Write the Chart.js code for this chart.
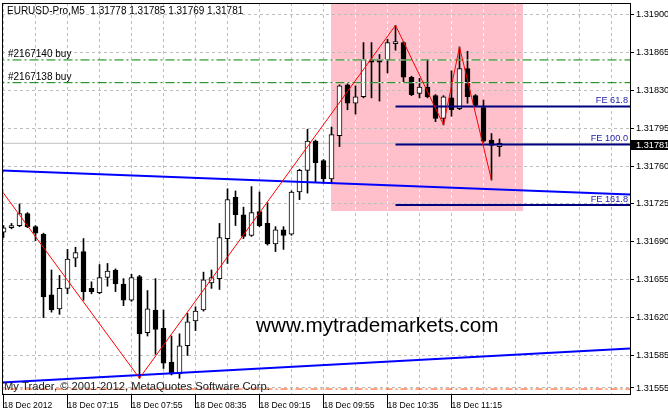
<!DOCTYPE html>
<html><head><meta charset="utf-8">
<script src="https://cdn.jsdelivr.net/npm/chart.js@4.4.1/dist/chart.umd.min.js"></script>
<style>
html,body{margin:0;padding:0;background:#fff;overflow:hidden}
#wrap{position:relative;width:668px;height:412px}
canvas{display:block}
</style></head><body>
<div id="wrap"><canvas id="c" width="668" height="412"></canvas></div>
<script>
// ---------- data ----------
const symbolTitle = 'EURUSD-Pro,M5  1.31778 1.31785 1.31769 1.31781';
const opens  = [1.31699,1.31703,1.31705,1.31716,1.31704,1.31697,1.31641,1.31628,1.31647,1.31675,
                1.31681,1.31647,1.31643,1.31657,1.31664,1.31651,1.31636,1.31658,1.31606,1.31627,
                1.31610,1.31579,1.31568,1.31594,1.31617,1.31627,1.31652,1.31656,1.31693,1.31731,
                1.31715,1.31696,1.31718,1.31707,1.31688,1.31701,1.31697,1.31736,1.31756,1.31783,
                1.31765,1.31748,1.31788,1.31835,1.31818,1.31824,1.31858,1.31858,1.31858,1.31873,
                1.31874,1.31842,1.31827,1.31833,1.31825,1.31804,1.31823,1.31813,1.31850,1.31825,
                1.31814,1.31784,1.31778];
const highs  = [1.31705,1.31707,1.31725,1.31717,1.31705,1.31698,1.31664,1.31659,1.31683,1.31685,
                1.31693,1.31653,1.31669,1.31670,1.31665,1.31656,1.31660,1.31659,1.31645,1.31656,
                1.31627,1.31603,1.31605,1.31624,1.31630,1.31662,1.31664,1.31707,1.31739,1.31737,
                1.31722,1.31741,1.31736,1.31726,1.31704,1.31704,1.31737,1.31757,1.31794,1.31784,
                1.31766,1.31796,1.31835,1.31836,1.31834,1.31874,1.31874,1.31863,1.31877,1.31890,
                1.31875,1.31843,1.31841,1.31858,1.31826,1.31825,1.31848,1.31870,1.31866,1.31826,
                1.31821,1.31790,1.31785];
const lows   = [1.31694,1.31702,1.31704,1.31703,1.31691,1.31620,1.31625,1.31623,1.31642,1.31667,
                1.31636,1.31642,1.31642,1.31649,1.31644,1.31631,1.31635,1.31564,1.31603,1.31586,
                1.31573,1.31567,1.31564,1.31585,1.31608,1.31626,1.31647,1.31646,1.31670,1.31705,
                1.31693,1.31695,1.31704,1.31687,1.31681,1.31683,1.31696,1.31729,1.31735,1.31745,
                1.31744,1.31744,1.31778,1.31812,1.31808,1.31823,1.31823,1.31820,1.31846,1.31867,
                1.31837,1.31825,1.31823,1.31823,1.31801,1.31798,1.31806,1.31812,1.31818,1.31815,
                1.31782,1.31747,1.31769];
const closes = [1.31703,1.31705,1.31716,1.31704,1.31698,1.31639,1.31627,1.31647,1.31674,1.31680,
                1.31644,1.31644,1.31657,1.31663,1.31651,1.31636,1.31657,1.31605,1.31628,1.31609,
                1.31578,1.31568,1.31594,1.31616,1.31626,1.31655,1.31657,1.31694,1.31729,1.31715,
                1.31695,1.31717,1.31705,1.31688,1.31701,1.31696,1.31736,1.31756,1.31783,1.31763,
                1.31748,1.31789,1.31834,1.31818,1.31824,1.31858,1.31856,1.31856,1.31874,1.31875,
                1.31842,1.31826,1.31833,1.31824,1.31804,1.31824,1.31812,1.31850,1.31824,1.31816,
                1.31783,1.31779,1.31781];

const timeLabels    = ['18 Dec 2012','18 Dec 07:15','18 Dec 07:55','18 Dec 08:35','18 Dec 09:15','18 Dec 09:55','18 Dec 10:35','18 Dec 11:15'];
const timeLabelBars = [0, 8, 16, 24, 32, 40, 48, 56];
const gridBars      = [0,4,8,12,16,20,24,28,32,36,40,44,48,52,56,60,64,68,72,76];
const priceTicks    = [1.31900,1.31865,1.31830,1.31795,1.31760,1.31725,1.31690,1.31655,1.31620,1.31585,1.31555];
const visibleBars   = [-0.1875, 78.3125];
const visiblePrices = [1.315485, 1.319106];

const zigzagBars   = [-1, 17, 49, 55, 57, 61];
const zigzagPrices = [1.31745, 1.31564, 1.31890, 1.31798, 1.31870, 1.31747];

const channelUpperBars   = [-1, 79];
const channelUpperPrices = [1.317561, 1.317335];
const channelLowerBars   = [-1, 79];
const channelLowerPrices = [1.315598, 1.315918];

const feLabels   = ['FE 61.8', 'FE 100.0', 'FE 161.8'];
const fePrices   = [1.31815, 1.31780, 1.31724];
const feBars     = [49, 80];

const orderLabels = ['#2167140 buy', '#2167138 buy'];
const orderPrices = [1.31858, 1.31837];
const stopPrice   = 1.31554;
const bidPrice    = 1.31781;
const fullBars    = [-1, 80];

const rectBars   = [41, 65];
const rectPrices = [1.31930, 1.31719];

const watermark = 'www.mytrademarkets.com';
const copyright = 'My Trader, \u00a9 2001-2012, MetaQuotes Software Corp.';

// ---------- build datasets ----------
const FONT = '"Liberation Sans", Arial, sans-serif';
const idx = opens.map((_, i) => i);
const bodyData = idx.map(i => ({x: i, y: [opens[i], closes[i]]}));
const wickData = idx.map(i => ({x: i, y: [lows[i], highs[i]]}));
const bodyColors = idx.map(i => closes[i] >= opens[i] ? '#ffffff' : '#000000');
const seg = (bars, prices) => bars.map((b, i) => ({x: b, y: prices[i]}));
const hline = (p, bars) => bars.map(b => ({x: b, y: p}));

const lineDs = (data, color, width, order, dash) => ({
  type: 'line', data, borderColor: color, borderWidth: width, borderDash: dash || [],
  pointRadius: 0, fill: false, tension: 0, order, clip: 0, borderCapStyle: 'butt'
});

const datasets = [
  {type: 'bar', data: bodyData, backgroundColor: bodyColors, borderColor: '#000', borderWidth: 1,
   borderSkipped: false, barThickness: 5, grouped: false, minBarLength: 1, order: 14},
  {type: 'bar', data: wickData, backgroundColor: '#000', borderWidth: 0,
   barThickness: 1, grouped: false, order: 15},
  lineDs(hline(bidPrice, fullBars), '#c0c0c0', 1, 20),
  lineDs(hline(orderPrices[0], fullBars), '#ffffff', 1, 8),
  lineDs(hline(orderPrices[1], fullBars), '#ffffff', 1, 8),
  lineDs(hline(orderPrices[0], fullBars), '#008000', 1, 7, [9, 3, 2, 3]),
  lineDs(hline(orderPrices[1], fullBars), '#008000', 1, 7, [9, 3, 2, 3]),
  lineDs(hline(stopPrice, fullBars), '#ff4500', 1, 7, [7, 3, 2, 3]),
  lineDs(seg(channelUpperBars, channelUpperPrices), '#0000ff', 2, 5),
  lineDs(seg(channelLowerBars, channelLowerPrices), '#0000ff', 2, 5),
  ...fePrices.map(p => lineDs(hline(p, feBars), '#000080', 2, 4)),
  lineDs(seg(zigzagBars, zigzagPrices), '#ff0000', 1, 3)
];

// ---------- drawing plugin for objects / texts ----------
const mtPlugin = {
  id: 'mtObjects',
  beforeDraw(chart) {
    const {ctx, chartArea: a, scales: {x, y}} = chart;
    ctx.save();
    ctx.fillStyle = '#fff';
    ctx.fillRect(0, 0, chart.width, chart.height);
    ctx.beginPath(); ctx.rect(a.left, a.top, a.right - a.left, a.bottom - a.top); ctx.clip();
    const x1 = Math.floor(x.getPixelForValue(rectBars[0])), x2 = Math.floor(x.getPixelForValue(rectBars[1]));
    const y1 = Math.floor(y.getPixelForValue(rectPrices[0])), y2 = Math.ceil(y.getPixelForValue(rectPrices[1]));
    ctx.fillStyle = '#ffc0cb';
    ctx.fillRect(x1, y1, x2 - x1, y2 - y1);
    ctx.restore();
  },
  beforeDatasetsDraw(chart) {
    const {ctx, chartArea: a, scales: {x, y}} = chart;
    const x1 = Math.floor(x.getPixelForValue(rectBars[0])), x2 = Math.floor(x.getPixelForValue(rectBars[1]));
    const y1 = Math.max(a.top, Math.floor(y.getPixelForValue(rectPrices[0]))), y2 = Math.ceil(y.getPixelForValue(rectPrices[1]));
    ctx.save();
    ctx.beginPath(); ctx.rect(x1, y1, x2 - x1, y2 - y1); ctx.clip();
    ctx.strokeStyle = 'rgba(255,255,255,0.9)'; ctx.lineWidth = 1; ctx.setLineDash([3, 3]);
    x.ticks.forEach(t => {
      const px = Math.round(x.getPixelForValue(t.value) - 0.5) + 0.5;
      ctx.beginPath(); ctx.moveTo(px, a.top); ctx.lineTo(px, a.bottom); ctx.stroke();
    });
    ctx.restore();
  },
  afterDraw(chart) {
    const {ctx, chartArea: a, scales: {x, y}} = chart;
    ctx.save();
    // frame
    ctx.strokeStyle = '#000'; ctx.lineWidth = 1; ctx.setLineDash([]);
    ctx.strokeRect(a.left + 0.5, a.top + 0.5, a.right - a.left, a.bottom - a.top - 1);
    ctx.textBaseline = 'alphabetic';
    // title
    ctx.fillStyle = '#000'; ctx.textAlign = 'left';
    ctx.font = '10px ' + FONT;
    ctx.fillText(symbolTitle, a.left + 5, a.top + 11);
    // order labels
    ctx.font = '10px ' + FONT;
    orderLabels.forEach((t, i) => ctx.fillText(t, a.left + 6, y.getPixelForValue(orderPrices[i]) - 3));
    // FE labels
    ctx.font = '9.2px ' + FONT; ctx.textAlign = 'right'; ctx.fillStyle = '#1c1ca8';
    feLabels.forEach((t, i) => ctx.fillText(t, a.right - 2, y.getPixelForValue(fePrices[i]) - 3));
    // watermark
    ctx.textAlign = 'left'; ctx.fillStyle = '#000';
    ctx.font = '20.7px ' + FONT;
    ctx.fillText(watermark, a.left + 254, a.top + 329);
    // copyright
    ctx.font = '11.2px ' + FONT; ctx.fillStyle = '#202020';
    ctx.fillText(copyright, a.left + 2, a.top + 387);
    // bid price box
    const py = Math.round(y.getPixelForValue(bidPrice));
    ctx.fillStyle = '#000';
    ctx.fillRect(a.right + 1, py - 3, chart.width - a.right - 1, 10);
    ctx.fillStyle = '#fff'; ctx.font = '9.2px ' + FONT; ctx.textBaseline = 'middle';
    ctx.fillText(bidPrice.toFixed(5), a.right + 6, py + 2);
    ctx.restore();
  }
};

new Chart(document.getElementById('c'), {
  type: 'bar',
  data: {datasets},
  options: {
    responsive: false, animation: false, devicePixelRatio: 1, events: [],
    layout: {padding: {left: 2, top: 3, right: 0, bottom: 0}, autoPadding: false},
    plugins: {legend: {display: false}, tooltip: {enabled: false}, title: {display: false}},
    scales: {
      x: {
        type: 'linear', offset: false, bounds: 'data',
        min: visibleBars[0], max: visibleBars[1],
        afterBuildTicks: s => { s.ticks = gridBars.map(v => ({value: v})); },
        afterFit: s => { s.height = 17; s.paddingLeft = 0; s.paddingRight = 0; s.paddingTop = 0; s.paddingBottom = 0; },
        grid: {offset: false, color: '#bdbdbd', lineWidth: 1, drawTicks: true, tickLength: 13,
               tickColor: c => timeLabelBars.includes(c.tick && c.tick.value) ? '#000' : 'rgba(0,0,0,0)'},
        border: {display: false, dash: [3, 3]},
        ticks: {
          autoSkip: false, maxRotation: 0, minRotation: 0, align: 'start', padding: -8,
          color: '#000', font: {family: FONT, size: 8.6},
          callback: v => { const k = timeLabelBars.indexOf(v); return k >= 0 ? timeLabels[k] : ''; }
        }
      },
      y: {
        type: 'linear', position: 'right', beginAtZero: false, bounds: 'data',
        min: visiblePrices[0], max: visiblePrices[1],
        afterBuildTicks: s => { s.ticks = priceTicks.map(v => ({value: v})); },
        afterFit: s => { s.width = 38; s.paddingLeft = 0; s.paddingRight = 0; s.paddingTop = 0; s.paddingBottom = 0; },
        grid: {color: '#bdbdbd', lineWidth: 1, drawTicks: true, tickLength: 4, tickColor: '#000'},
        border: {display: false, dash: [3, 3]},
        ticks: {
          autoSkip: false, padding: 2, color: '#000', font: {family: FONT, size: 9.2},
          callback: v => Number(v).toFixed(5)
        }
      }
    }
  },
  plugins: [mtPlugin]
});
</script>
</body></html>
